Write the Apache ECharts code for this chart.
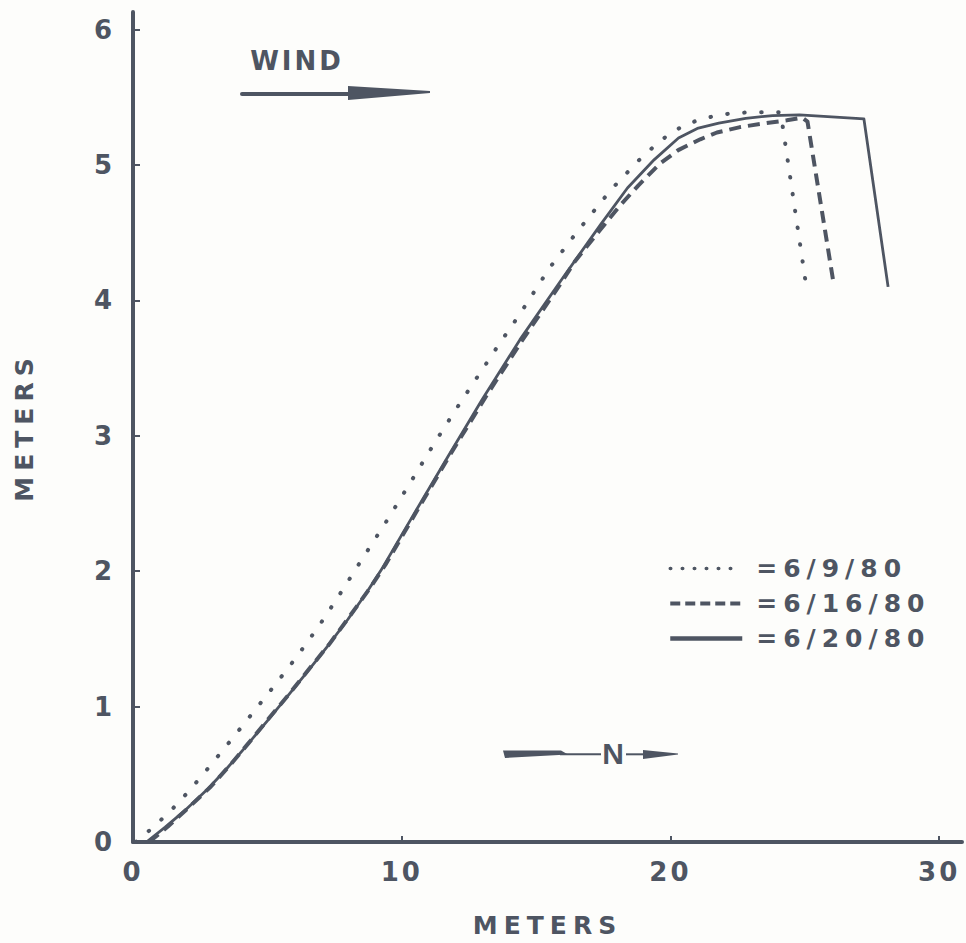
<!DOCTYPE html>
<html>
<head>
<meta charset="utf-8">
<title>Wind profile</title>
<script src="https://cdn.jsdelivr.net/npm/echarts@6/dist/echarts.min.js"></script>
<style>
  html, body { margin: 0; padding: 0; background: #fdfdfb; }
  #chart { width: 966px; height: 943px; }
  /* wide, tracked lettering for the bold captions */
  #chart text { letter-spacing: 3px; }
  #chart text[style*="25px"] { letter-spacing: 6px; }
  #chart text[style*="30px"] { letter-spacing: 0; }
  #chart text[text-anchor="end"] { letter-spacing: 0; }
</style>
</head>
<body>
<div id="chart"></div>
<script>
// Horizontal distance (m) vs height (m) for each survey date
const xTicks = [0, 10, 20, 30];
const yTicks = [0, 1, 2, 3, 4, 5, 6];
const seriesNames = ['6/9/80', '6/16/80', '6/20/80'];

const profile0609 = [
  [0.1, 0.0], [0.7, 0.10], [1.4, 0.23], [2.1, 0.38], [2.9, 0.57], [3.8, 0.79],
  [4.6, 0.99], [5.4, 1.19], [6.1, 1.37], [6.9, 1.59], [7.6, 1.80], [8.4, 2.05],
  [9.5, 2.39], [10.4, 2.68], [11.2, 2.94], [12.0, 3.19], [12.8, 3.43], [13.6, 3.67],
  [14.4, 3.90], [15.5, 4.24], [16.5, 4.50], [17.8, 4.82], [18.8, 5.03], [19.4, 5.14],
  [19.9, 5.22], [20.4, 5.28], [21.0, 5.33], [21.6, 5.36], [22.2, 5.38], [23.0, 5.39],
  [24.1, 5.39], [25.05, 4.11]
];

const profile0616 = [
  [0.6, 0.0], [1.3, 0.115], [2.1, 0.26], [2.9, 0.41], [3.6, 0.565], [4.3, 0.73],
  [5.0, 0.90], [5.8, 1.09], [6.5, 1.265], [7.3, 1.46], [8.0, 1.65], [8.8, 1.87],
  [9.4, 2.05], [10.4, 2.39], [11.8, 2.86], [13.1, 3.28], [14.5, 3.71], [15.9, 4.12],
  [16.45, 4.29], [17.38, 4.52], [18.12, 4.70], [18.81, 4.85], [19.61, 5.01], [20.29, 5.11],
  [21.11, 5.19], [21.73, 5.24], [22.59, 5.28], [23.58, 5.31], [24.33, 5.33], [24.9, 5.35],
  [25.1, 5.32], [26.06, 4.14]
];

const profile0620 = [
  [0.5, 0.0], [1.2, 0.11], [2.0, 0.245], [2.8, 0.395], [3.5, 0.545], [4.2, 0.705],
  [5.0, 0.895], [5.7, 1.065], [6.5, 1.26], [7.2, 1.435], [8.0, 1.645], [8.7, 1.845],
  [9.3, 2.03], [10.3, 2.37], [11.7, 2.84], [13.0, 3.27], [14.4, 3.71], [15.9, 4.14],
  [17.4, 4.56], [18.4, 4.83], [19.4, 5.04], [20.3, 5.20], [21.0, 5.27], [21.8, 5.31],
  [22.8, 5.345], [23.8, 5.365], [24.8, 5.37], [27.2, 5.34], [28.1, 4.10]
];

const INK = '#4e5562';
const BOLD = 'DejaVu Sans';

const chart = echarts.init(document.getElementById('chart'), null, { renderer: 'svg' });

chart.setOption({
  backgroundColor: '#fdfdfb',
  animation: false,
  grid: { left: 133, right: 4, top: 12, bottom: 101, outerBoundsMode: 'none' },
  xAxis: {
    type: 'value', min: 0, max: 30.85, interval: 10,
    name: 'METERS', nameLocation: 'middle', nameGap: 71,
    nameTextStyle: { color: INK, fontFamily: BOLD, fontWeight: 'bold', fontSize: 25 },
    splitLine: { show: false },
    axisLine: { onZero: false, lineStyle: { color: INK, width: 4, cap: 'round' } },
    axisTick: { inside: true, length: 6, customValues: xTicks.slice(1),
                lineStyle: { color: INK, width: 2 } },
    axisLabel: { customValues: xTicks, margin: 17, color: INK, fontFamily: BOLD,
                 fontWeight: 'bold', fontSize: 26 }
  },
  yAxis: {
    type: 'value', min: 0, max: 6.13, interval: 1,
    name: 'METERS', nameLocation: 'middle', nameGap: 96,
    nameTextStyle: { color: INK, fontFamily: BOLD, fontWeight: 'bold', fontSize: 25 },
    splitLine: { show: false },
    axisLine: { onZero: false, lineStyle: { color: INK, width: 4, cap: 'round' } },
    axisTick: { inside: true, length: 7, customValues: yTicks.slice(1),
                lineStyle: { color: INK, width: 2 } },
    axisLabel: { customValues: yTicks, margin: 21, color: INK, fontFamily: BOLD,
                 fontWeight: 'bold', fontSize: 26 }
  },
  legend: {
    orient: 'vertical', left: 663, top: 551,
    itemWidth: 72, itemHeight: 24, itemGap: 10,
    icon: 'inherit',
    itemStyle: { opacity: 0 },
    formatter: name => '{t|=' + name + '}',
    textStyle: {
      rich: { t: { padding: [0, 0, 0, 9], color: INK, fontFamily: BOLD,
                   fontWeight: 'bold', fontSize: 25 } }
    },
    data: [
      { name: seriesNames[0], lineStyle: { type: [0.5, 11.5], width: 3.5, cap: 'round' } },
      { name: seriesNames[1], lineStyle: { type: [10, 5], width: 4, cap: 'butt' } },
      { name: seriesNames[2], lineStyle: { type: 'solid', width: 4.5 } }
    ]
  },
  series: [
    {
      name: seriesNames[2], type: 'line', data: profile0620, symbol: 'none',
      lineStyle: { color: INK, width: 2.8, type: 'solid', join: 'round' },
      itemStyle: { color: INK }, z: 2
    },
    {
      name: seriesNames[1], type: 'line', data: profile0616, symbol: 'none',
      lineStyle: { color: INK, width: 4, type: [12, 7], cap: 'butt', join: 'round' },
      itemStyle: { color: INK }, z: 3
    },
    {
      name: seriesNames[0], type: 'line', data: profile0609, symbol: 'none',
      lineStyle: { color: INK, width: 4, type: [0.5, 16.5], cap: 'round' },
      itemStyle: { color: INK }, z: 4
    }
  ],
  graphic: [
    // wind direction caption and arrow
    { type: 'text', x: 297, y: 61,
      style: { text: 'WIND', fill: INK, fontFamily: BOLD, fontWeight: 'bold', fontSize: 26,
               align: 'center', verticalAlign: 'middle' } },
    { type: 'line', shape: { x1: 242, y1: 94, x2: 350, y2: 94 },
      style: { stroke: INK, lineWidth: 4, lineCap: 'round' } },
    { type: 'polygon', shape: { points: [[348, 86], [430, 91], [430, 93], [348, 100]] },
      style: { fill: INK } },
    // north marker
    { type: 'polygon', shape: { points: [[503, 750.5], [561, 750.5], [568, 754.5], [505, 758]] },
      style: { fill: INK } },
    { type: 'line', shape: { x1: 560, y1: 754.3, x2: 601, y2: 754.3 },
      style: { stroke: INK, lineWidth: 2 } },
    { type: 'text', x: 613, y: 753,
      style: { text: 'N', fill: INK, fontFamily: 'Liberation Sans', fontWeight: 'bold',
               fontSize: 30, align: 'center', verticalAlign: 'middle' } },
    { type: 'line', shape: { x1: 626, y1: 754.3, x2: 646, y2: 754.3 },
      style: { stroke: INK, lineWidth: 2 } },
    { type: 'polygon', shape: { points: [[643, 750], [678, 753.5], [678, 754.5], [643, 759]] },
      style: { fill: INK } }
  ]
});
</script>
</body>
</html>
